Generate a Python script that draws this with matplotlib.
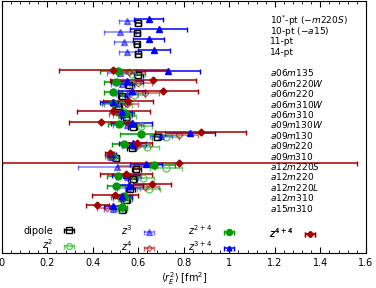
import numpy as np
import matplotlib
matplotlib.use('Agg')
import matplotlib.pyplot as plt
from matplotlib.ticker import MultipleLocator

# row labels, top to bottom
fit_labels = [r'10$^{*}$-pt ($-m220S$)', r'10-pt ($-a15$)', '11-pt', '14-pt']
ens_labels = [r'$a06m135$', r'$a06m220W$', r'$a06m220$', r'$a06m310W$', r'$a06m310$',
              r'$a09m130W$', r'$a09m130$', r'$a09m220$', r'$a09m310$', r'$a12m220S$',
              r'$a12m220$', r'$a12m220L$', r'$a12m310$', r'$a15m310$']
xticks = [0, 0.2, 0.4, 0.6, 0.8, 1.0, 1.2, 1.4, 1.6]
xtick_labels = ['0', '0.2', '0.4', '0.6', '0.8', '1', '1.2', '1.4', '1.6']

nan = np.nan
# <r_E^2> values [fm^2]: first 4 entries = fit-strategy rows, then ensembles
dipole = [0.598, 0.593, 0.592, 0.598,
          0.600, 0.560, 0.530, 0.510, 0.545, 0.575, 0.680, 0.570, 0.500, 0.590,
          0.575, 0.565, 0.545, 0.530]
dipole_err = [0.012, 0.012, 0.012, 0.012,
              0.020, 0.020, 0.020, 0.020, 0.020, 0.020, 0.020, 0.020, 0.015, 0.020,
              0.020, 0.020, 0.020, 0.015]
z2 = [nan, nan, nan, nan,
      0.570, 0.570, 0.580, 0.530, 0.550, 0.610, 0.720, 0.640, 0.490, 0.720,
      0.620, 0.645, 0.540, 0.520]
z2_err = [nan, nan, nan, nan,
          0.060, 0.050, 0.050, 0.040, 0.040, 0.050, 0.060, 0.050, 0.020, 0.070,
          0.050, 0.050, 0.030, 0.030]
z3 = [0.552, 0.521, 0.536, 0.548,
      0.520, 0.530, 0.550, 0.500, 0.530, 0.550, 0.700, 0.580, 0.480, 0.505,
      0.550, 0.555, 0.530, 0.490]
z3_err = [0.035, 0.070, 0.042, 0.035,
          0.060, 0.050, 0.050, 0.050, 0.040, 0.060, 0.050, 0.050, 0.020, 0.170,
          0.050, 0.050, 0.040, 0.040]
z4 = [nan, nan, nan, nan,
      0.560, 0.600, 0.630, 0.550, 0.520, 0.560, 0.780, 0.600, 0.475, 0.590,
      0.560, 0.630, 0.520, 0.460]
z4_err = [nan, nan, nan, nan,
          0.070, 0.060, 0.060, 0.050, 0.050, 0.060, 0.080, 0.050, 0.020, 0.080,
          0.050, 0.060, 0.040, 0.040]
z24 = [nan, nan, nan, nan,
       0.510, 0.500, 0.490, 0.490, 0.540, 0.515, 0.610, 0.535, 0.480, 0.670,
       0.510, 0.500, 0.535, 0.530]
z24_err = [nan, nan, nan, nan,
           0.080, 0.050, 0.040, 0.050, 0.040, 0.050, 0.090, 0.050, 0.020, 0.090,
           0.050, 0.040, 0.030, 0.020]
z34 = [0.646, 0.689, 0.646, 0.667,
       0.730, 0.550, 0.570, 0.490, 0.530, 0.570, 0.825, 0.575, 0.480, 0.635,
       0.545, 0.560, 0.530, 0.490]
z34_err = [0.064, 0.125, 0.068, 0.070,
           0.140, 0.070, 0.060, 0.060, 0.040, 0.090, 0.110, 0.060, 0.020, 0.070,
           0.060, 0.060, 0.040, 0.040]
z44 = [nan, nan, nan, nan,
       0.490, 0.665, 0.710, 0.555, 0.490, 0.435, 0.875, 0.595, 0.475, 0.780,
       0.545, 0.660, 0.497, 0.420]
z44_err = [nan, nan, nan, nan,
           0.240, 0.190, 0.150, 0.110, 0.160, 0.140, 0.200, 0.065, 0.020, 0.780,
           0.115, 0.085, 0.100, 0.050]

labels = fit_labels + ens_labels
# one empty row between the fit rows and the ensembles
ypos = np.array(list(range(len(fit_labels))) +
                list(range(len(fit_labels) + 1, len(fit_labels) + 1 + len(ens_labels))), dtype=float)

series = [
    ('dipole', dipole, dipole_err, dict(color='black', marker='s', mfc='none', ms=5, mew=1.0)),
    (r'$z^2$', z2, z2_err, dict(color='#44bb44', marker='o', mfc='none', ms=5, mew=1.0, alpha=0.8)),
    (r'$z^3$', z3, z3_err, dict(color='blue', marker='^', ms=4.5, alpha=0.5)),
    (r'$z^4$', z4, z4_err, dict(color='#aa0000', marker='D', mfc='none', ms=3.5, mew=1.0, alpha=0.6)),
    (r'$z^{2+4}$', z24, z24_err, dict(color='#009900', marker='o', ms=5)),
    (r'$z^{3+4}$', z34, z34_err, dict(color='blue', marker='^', ms=4)),
    (r'$z^{4+4}$', z44, z44_err, dict(color='#a00000', marker='D', ms=3.5)),
]
offsets = np.linspace(0.2, -0.3, len(series))

fig = plt.figure(figsize=(3.76, 2.88), dpi=100)
ax = fig.add_axes([0.005, 0.1215, 0.968, 0.875])

handles = []
for (name, vals, errs, st), dy in zip(series, offsets):
    h = ax.errorbar(vals, ypos + dy, xerr=errs, ls='none', capsize=1.8, elinewidth=1.1,
                    capthick=1.0, label=name, **st)
    handles.append(h)

for lab, y in zip(labels, ypos):
    ax.text(1.18, y, lab, va='center', ha='left', fontsize=6.5)

ax.set_xlim(0, 1.6)
ax.set_ylim(22.3, -1.9)
ax.set_yticks([])
ax.set_xticks(xticks)
ax.set_xticklabels(xtick_labels)
ax.xaxis.set_minor_locator(MultipleLocator(0.04))
ax.tick_params(axis='x', which='both', direction='in', top=True, labelsize=7)
ax.tick_params(axis='x', which='major', length=4)
ax.tick_params(axis='x', which='minor', length=2)
ax.set_xlabel(r'$\langle r_E^2\rangle$ [fm$^2$]', fontsize=7, labelpad=2)

# legend: four columns placed by hand, text to the left of the marker
W, H = 376.0, 288.0
col_right = [80, 160, 240, 321]
cols = [[0, 1], [2, 3], [4, 5], [6]]
for xr, idx in zip(col_right, cols):
    yc = 238.4 if len(idx) == 2 else 232.7
    leg = ax.legend([handles[i] for i in idx], [series[i][0] for i in idx],
                    loc='center right', bbox_to_anchor=(xr / W, 1 - yc / H),
                    bbox_transform=fig.transFigure, markerfirst=False, frameon=False,
                    fontsize=7, handlelength=2.3, handletextpad=0.5, borderpad=0,
                    borderaxespad=0, labelspacing=0.2, markerscale=0.85)
    ax.add_artist(leg)

fig.savefig('out.png', dpi=100)
